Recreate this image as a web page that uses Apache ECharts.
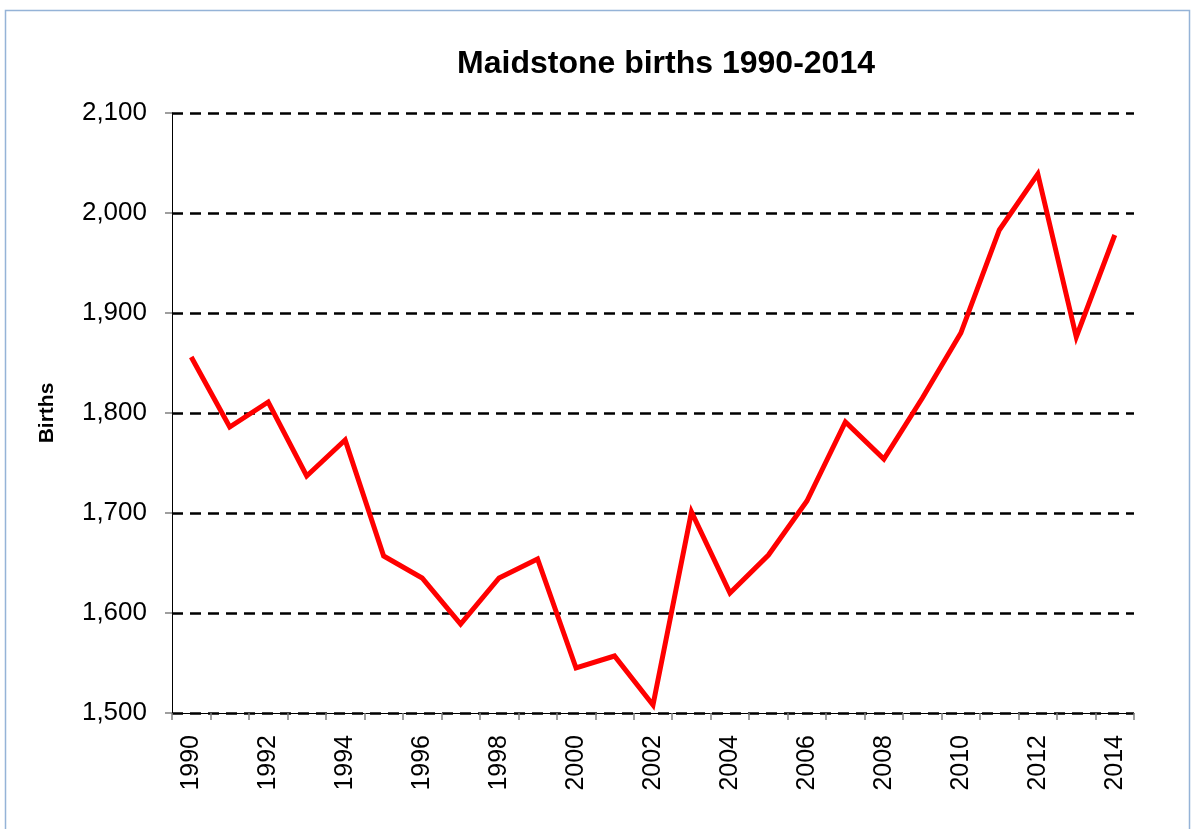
<!DOCTYPE html>
<html>
<head>
<meta charset="utf-8">
<script src="https://cdn.jsdelivr.net/npm/echarts@6/dist/echarts.min.js"></script>
<style>
  html, body { margin: 0; padding: 0; background: #fff; }
  #chart { width: 1193px; height: 829px; }
</style>
</head>
<body>
<div id="chart"></div>
<script>
// 年份 (x 轴)
const years = ['1990', '1991', '1992', '1993', '1994', '1995', '1996', '1997', '1998', '1999',
  '2000', '2001', '2002', '2003', '2004', '2005', '2006', '2007', '2008', '2009',
  '2010', '2011', '2012', '2013', '2014'];
// 出生数
const births = [1856, 1786, 1811, 1737, 1773, 1657, 1635, 1589, 1635, 1654,
  1545, 1557, 1508, 1701, 1620, 1658, 1712, 1791, 1754, 1815,
  1880, 1983, 2039, 1876, 1978];
// y 轴刻度
const yMin = 1500, yMax = 2100, yStep = 100;

const FONT = 'Liberation Sans, Arial, sans-serif';
const myChart = echarts.init(document.getElementById('chart'));

myChart.setOption({
  animation: false,
  backgroundColor: '#fff',
  title: {
    text: 'Maidstone births 1990-2014',
    left: 661,
    top: 43,
    textAlign: 'center',
    textStyle: { fontFamily: FONT, fontSize: 32, fontWeight: 'bold', color: '#000' }
  },
  graphic: [{
    type: 'rect',
    shape: { x: 5.5, y: 10.5, width: 1184, height: 840 },
    style: { fill: 'none', stroke: '#95b3d7', lineWidth: 1.5 },
    silent: true
  }],
  grid: { left: 172, right: 59, top: 113, bottom: 116, containLabel: false },
  xAxis: {
    type: 'category',
    boundaryGap: true,
    data: years,
    axisLine: { show: true, lineStyle: { color: '#000', width: 1 } },
    axisTick: { show: true, interval: 0, length: 7, lineStyle: { color: '#808080', width: 1.5 } },
    axisLabel: {
      interval: 1,
      rotate: 90,
      margin: 22,
      fontFamily: FONT,
      fontSize: 25,
      color: '#000'
    },
    splitLine: { show: false }
  },
  yAxis: {
    type: 'value',
    min: yMin,
    max: yMax,
    interval: yStep,
    name: 'Births',
    nameLocation: 'middle',
    nameRotate: 90,
    nameGap: 114,
    nameTextStyle: { fontFamily: FONT, fontSize: 21, fontWeight: 'bold', color: '#000' },
    axisLine: { show: true, lineStyle: { color: '#000', width: 1 } },
    axisTick: { show: true, length: 7, lineStyle: { color: '#808080', width: 1.5 } },
    axisLabel: {
      margin: 25,
      fontFamily: FONT,
      fontSize: 26,
      color: '#000',
      formatter: v => v.toLocaleString('en-US')
    },
    splitLine: {
      show: true,
      lineStyle: { color: '#000', width: 2.5, type: [11, 7] }
    }
  },
  series: [{
    name: 'Births',
    type: 'line',
    data: births,
    showSymbol: false,
    color: '#ff0000',
    lineStyle: { color: '#ff0000', width: 5, cap: 'butt', join: 'miter' }
  }]
});
</script>
</body>
</html>
